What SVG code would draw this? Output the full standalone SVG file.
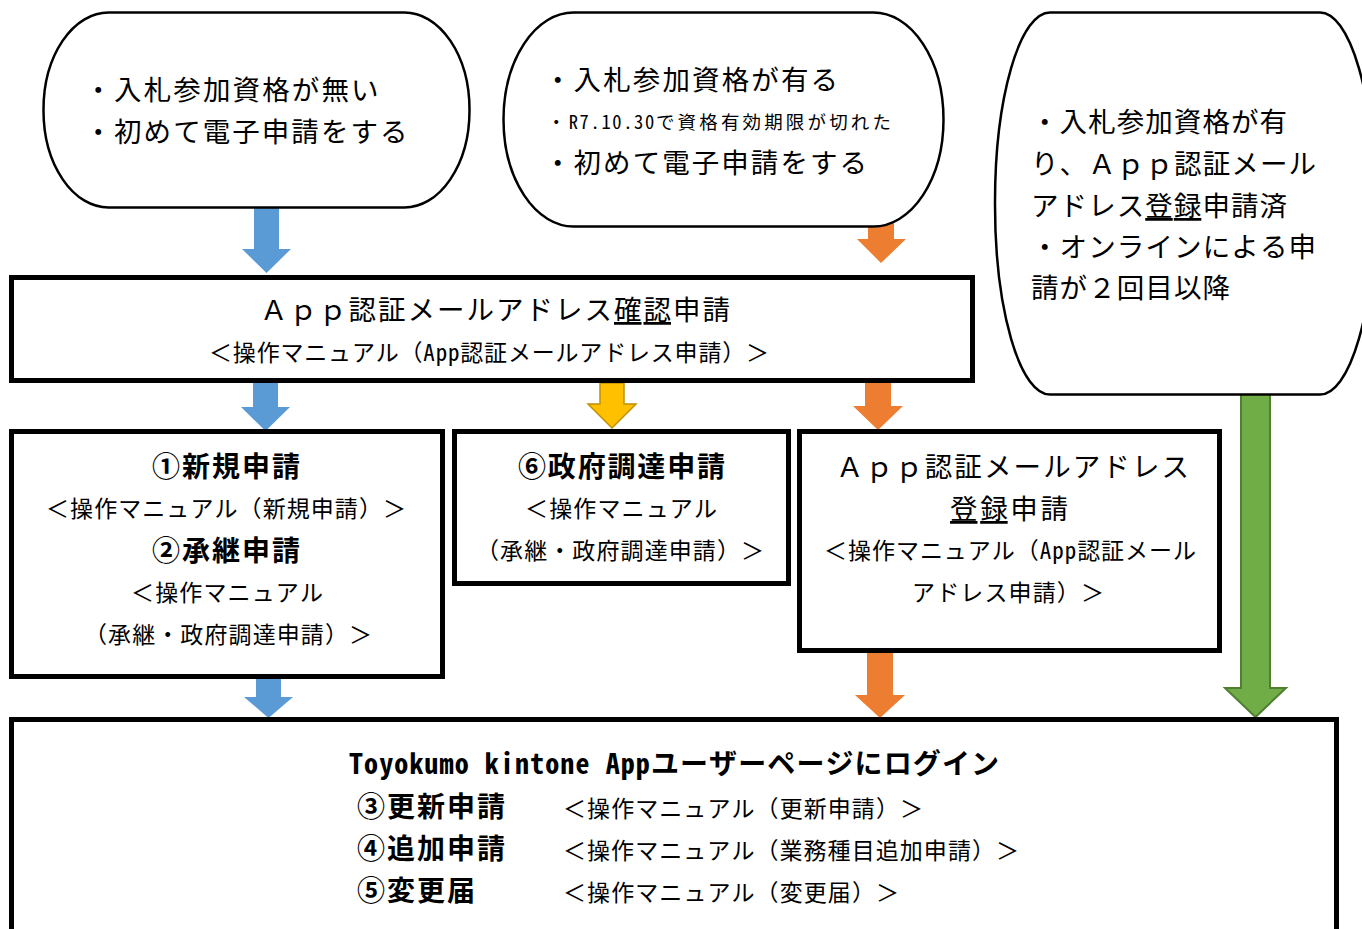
<svg xmlns="http://www.w3.org/2000/svg" width="1362" height="929" viewBox="0 0 1362 929">
<style>
.t{font-family:"Noto Sans Mono CJK JP","Noto Sans CJK JP",sans-serif;fill:#000}
.l{font-size:27.5px}
.s{font-size:23px}
.xs{font-size:18.5px}
.b{font-size:28px;font-weight:700}
.pill{fill:#fff;stroke:#000;stroke-width:2.5}
.box{fill:#fff;stroke:#000;stroke-width:5}
.blue{fill:#5B9BD5}
.orange{fill:#ED7D31}
.yellow{fill:#FFC000;stroke:#BF9000;stroke-width:1.5}
.green{fill:#70AD47;stroke:#507E32;stroke-width:2}
.u{text-decoration:underline}
</style>
<rect width="1362" height="929" fill="#fff"/>
<g id="connectors">
<polygon class="blue" points="254,200 279,200 279,249 291,249 266.5,273 242,249 254,249"/>
<polygon class="orange" points="868,215 894,215 894,239 906,239 881,263 857,239 868,239"/>
<polygon class="blue" points="253,383 278,383 278,407 290,407 265.5,431 241,407 253,407"/>
<polygon class="yellow" points="600,383 624,383 624,404 636,404 612,428 588,404 600,404"/>
<polygon class="orange" points="865,383 891,383 891,406 903,406 878,430 853,406 865,406"/>
<polygon class="blue" points="256,679 281,679 281,697 293,697 268.5,718 244,697 256,697"/>
<polygon class="orange" points="867,652 893,652 893,695 905,695 880,718 855,695 867,695"/>
<polygon class="green" points="1241,390 1270,390 1270,688 1286,688 1255.5,717 1225,688 1241,688"/>
</g>
<g id="start1">
<rect class="pill" x="43.5" y="12.5" width="426" height="195" rx="65" ry="97"/>
<text class="t l" x="84.5" y="100" textLength="294" lengthAdjust="spacing">・入札参加資格が無い</text>
<text class="t l" x="84.5" y="142" textLength="323" lengthAdjust="spacing">・初めて電子申請をする</text>
</g>
<g id="start2">
<rect class="pill" x="503.5" y="12.5" width="440" height="214" rx="70" ry="107"/>
<text class="t l" x="544" y="90" textLength="294" lengthAdjust="spacing">・入札参加資格が有る</text>
<text class="t xs" x="547" y="129" textLength="344" lengthAdjust="spacing">・<tspan letter-spacing="-1.5">R7.10.30</tspan>で資格有効期限が切れた</text>
<text class="t l" x="544" y="173" textLength="323" lengthAdjust="spacing">・初めて電子申請をする</text>
</g>
<g id="start3">
<rect class="pill" x="995" y="12.5" width="380" height="382" rx="55" ry="190"/>
<text class="t l" x="1031" y="132" textLength="256" lengthAdjust="spacing">・入札参加資格が有</text>
<text class="t l" x="1031" y="174" textLength="285" lengthAdjust="spacing">り、Ａｐｐ認証メール</text>
<text class="t l" x="1031" y="216" textLength="256" lengthAdjust="spacing">アドレス<tspan class="u">登録</tspan>申請済</text>
<text class="t l" x="1031" y="257" textLength="285" lengthAdjust="spacing">・オンラインによる申</text>
<text class="t l" x="1031" y="298" textLength="199" lengthAdjust="spacing">請が２回目以降</text>
</g>
<g id="confirm">
<rect class="box" x="11.5" y="277.5" width="961" height="103"/>
<text class="t l" x="260" y="320" textLength="470" lengthAdjust="spacing">Ａｐｐ認証メールアドレス<tspan class="u">確認</tspan>申請</text>
<text class="t s" x="209" y="361" textLength="560" lengthAdjust="spacing">＜操作マニュアル（App認証メールアドレス申請）＞</text>
</g>
<g id="new">
<rect class="box" x="11.5" y="431.5" width="431" height="245"/>
<text class="t b" x="152" y="477" textLength="148" lengthAdjust="spacing">①新規申請</text>
<text class="t s" x="46" y="517" textLength="360" lengthAdjust="spacing">＜操作マニュアル（新規申請）＞</text>
<text class="t b" x="152" y="561" textLength="148" lengthAdjust="spacing">②承継申請</text>
<text class="t s" x="131" y="601" textLength="192" lengthAdjust="spacing">＜操作マニュアル</text>
<text class="t s" x="84" y="643" textLength="288" lengthAdjust="spacing">（承継・政府調達申請）＞</text>
</g>
<g id="gov">
<rect class="box" x="454.5" y="431.5" width="334" height="152"/>
<text class="t b" x="518" y="477" textLength="207" lengthAdjust="spacing">⑥政府調達申請</text>
<text class="t s" x="525" y="517" textLength="192" lengthAdjust="spacing">＜操作マニュアル</text>
<text class="t s" x="476" y="559" textLength="288" lengthAdjust="spacing">（承継・政府調達申請）＞</text>
</g>
<g id="register">
<rect class="box" x="799.5" y="431.5" width="420" height="219"/>
<text class="t l" x="836" y="477" textLength="353" lengthAdjust="spacing">Ａｐｐ認証メールアドレス</text>
<text class="t l" x="950" y="519" textLength="118" lengthAdjust="spacing"><tspan class="u">登録</tspan>申請</text>
<text class="t s" x="824" y="559" textLength="372" lengthAdjust="spacing">＜操作マニュアル（App認証メール</text>
<text class="t s" x="912" y="601" textLength="192" lengthAdjust="spacing">アドレス申請）＞</text>
</g>
<g id="login">
<rect class="box" x="11.5" y="719.5" width="1325" height="230"/>
<text class="t b" x="349" y="774" textLength="650" lengthAdjust="spacing">Toyokumo kintone Appユーザーページにログイン</text>
<text class="t b" x="357" y="817" textLength="148" lengthAdjust="spacing">③更新申請</text>
<text class="t s" x="563" y="817" textLength="360" lengthAdjust="spacing">＜操作マニュアル（更新申請）＞</text>
<text class="t b" x="357" y="859" textLength="148" lengthAdjust="spacing">④追加申請</text>
<text class="t s" x="563" y="859" textLength="456" lengthAdjust="spacing">＜操作マニュアル（業務種目追加申請）＞</text>
<text class="t b" x="357" y="901" textLength="118" lengthAdjust="spacing">⑤変更届</text>
<text class="t s" x="563" y="901" textLength="336" lengthAdjust="spacing">＜操作マニュアル（変更届）＞</text>
</g>
</svg>
